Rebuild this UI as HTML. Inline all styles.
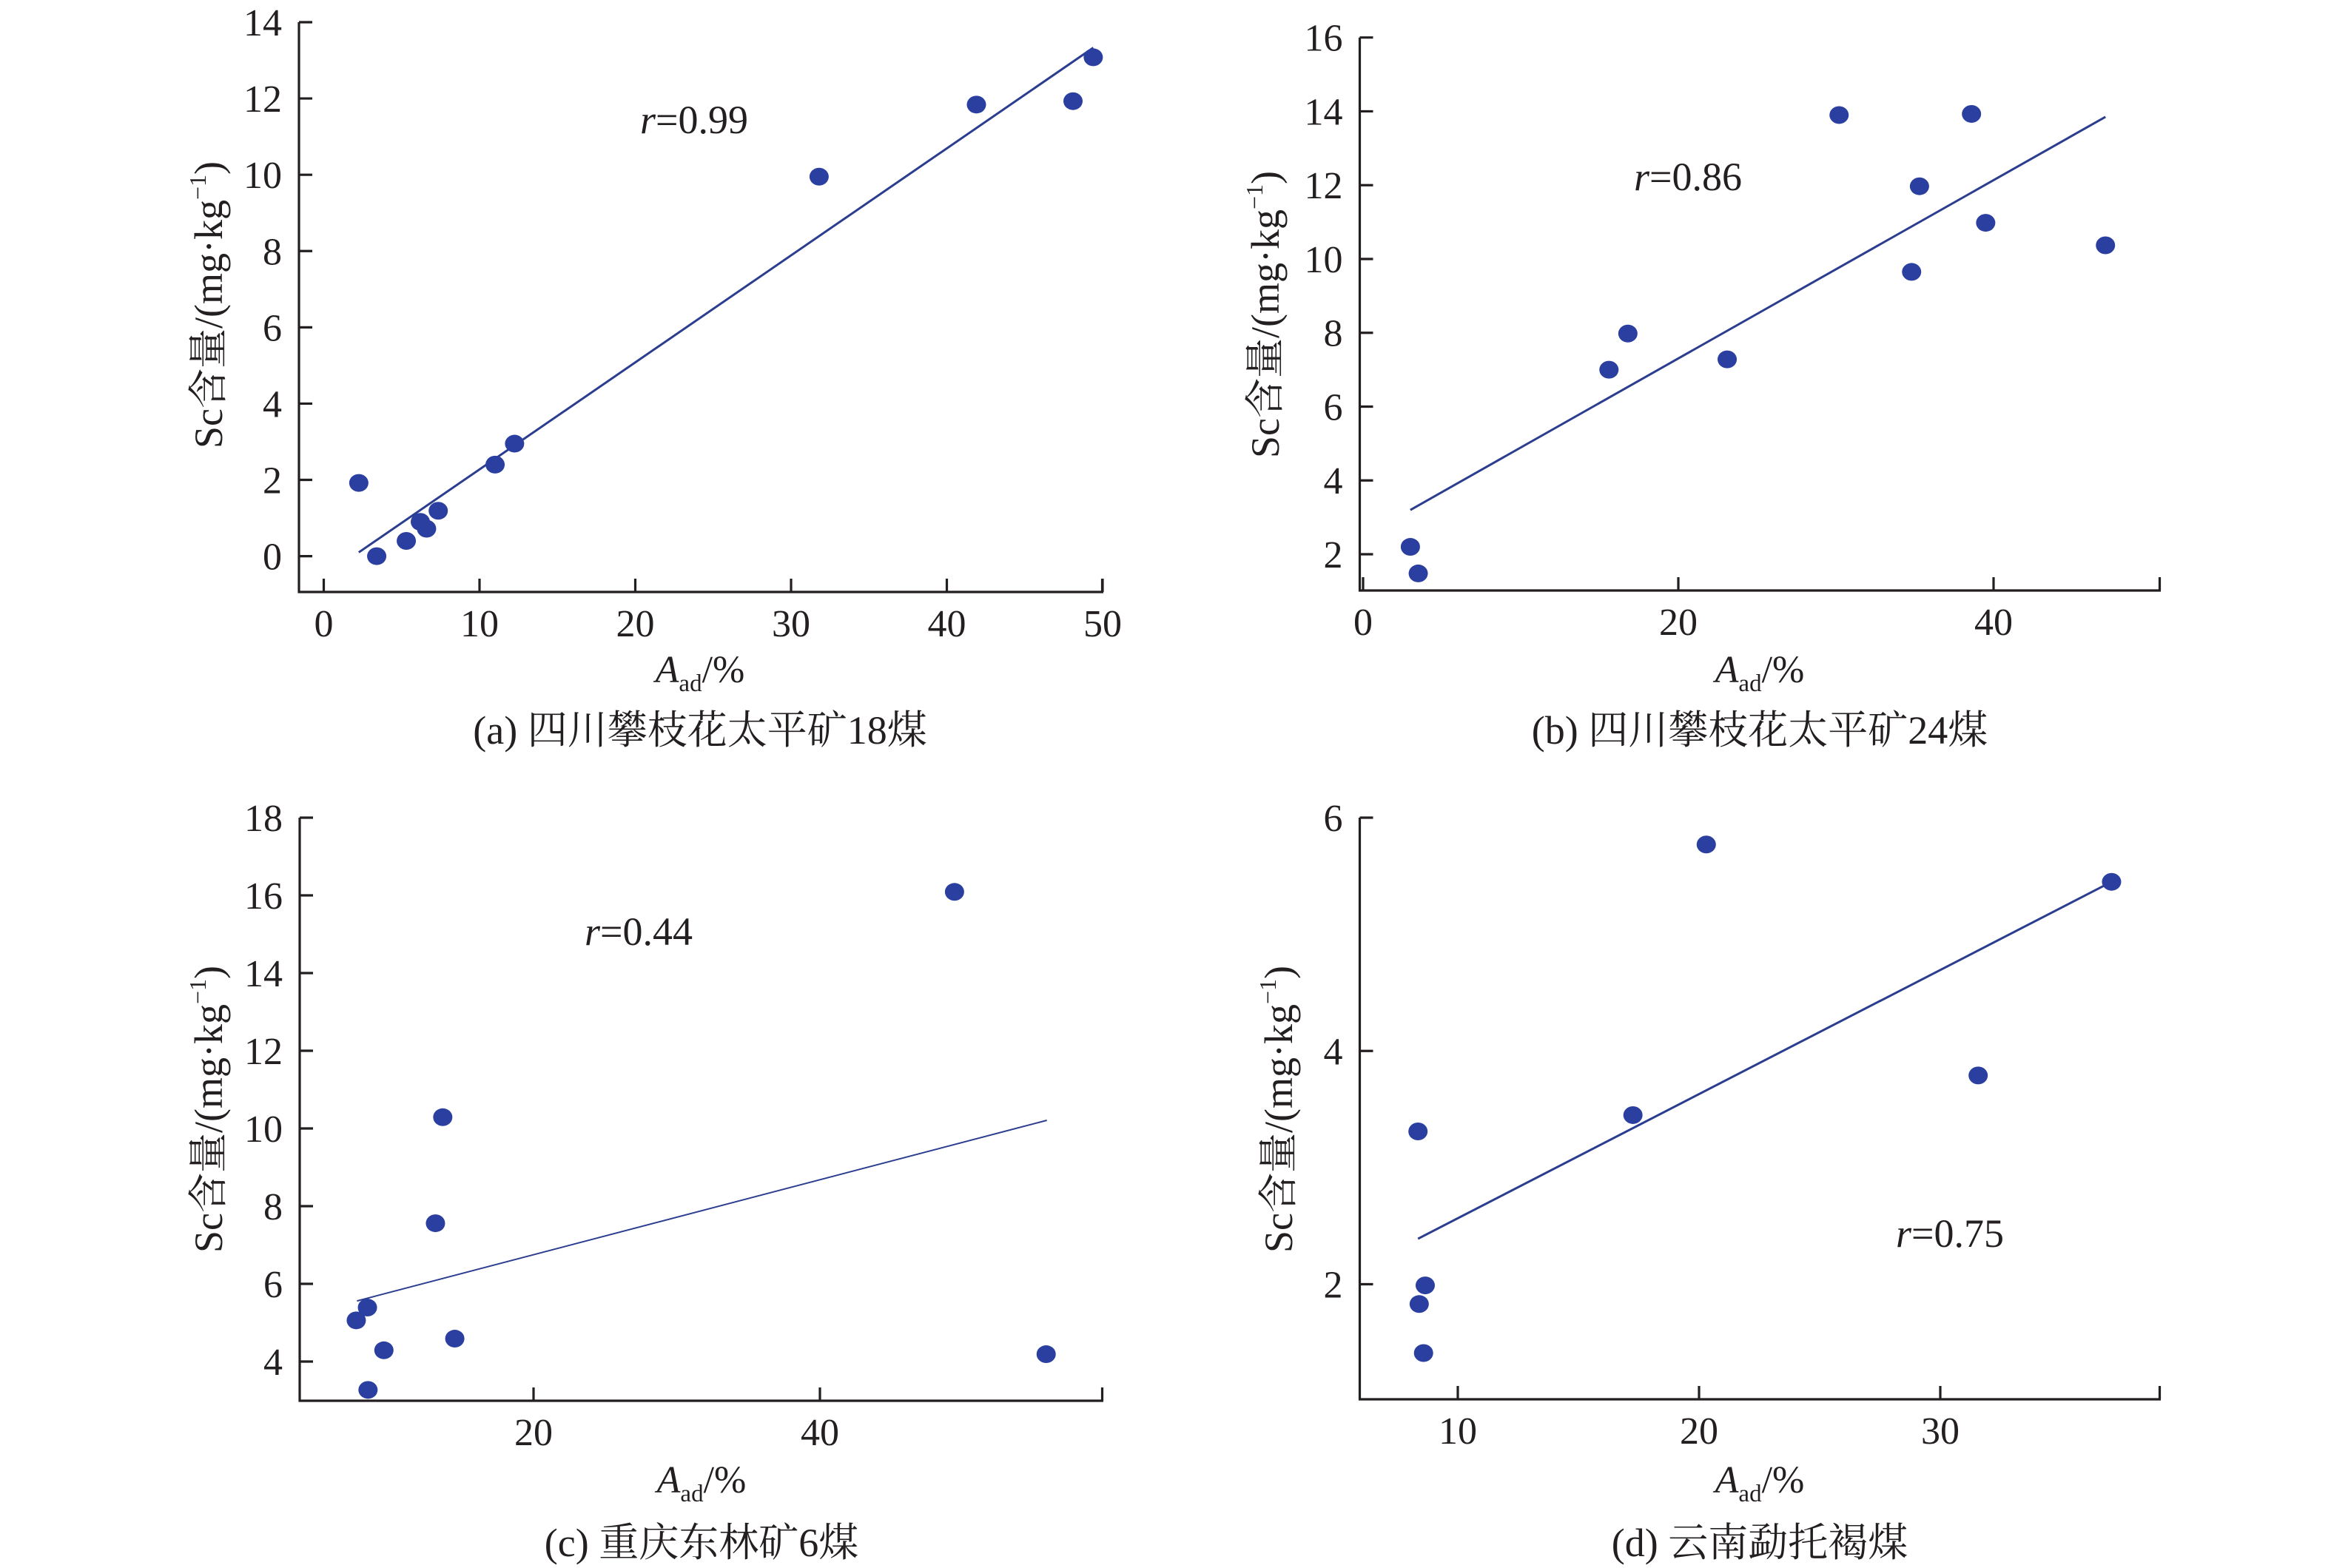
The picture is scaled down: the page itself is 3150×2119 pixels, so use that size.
<!DOCTYPE html>
<html><head><meta charset="utf-8"><style>
html,body{margin:0;padding:0;background:#fff}
svg{display:block}
text{font-family:"Liberation Serif","Noto Serif CJK SC","Noto Sans CJK SC",serif;fill:#231f20}
</style></head><body>
<svg id="fig" width="3150" height="2119" viewBox="0 0 3150 2119" xmlns="http://www.w3.org/2000/svg"></svg>
<script>
// Panel (a)
const aX = [2.25, 3.4, 5.3, 6.2, 6.6, 7.35, 11.0, 12.25, 31.8, 41.9, 48.1, 49.4];
const aY = [1.92, 0.0, 0.4, 0.9, 0.72, 1.19, 2.4, 2.95, 9.95, 11.84, 11.93, 13.08];
const aFitX = [2.25, 49.4];
const aFitY = [0.1, 13.33];
const aXTicks = [0, 10, 20, 30, 40, 50];
const aYTicks = [0, 2, 4, 6, 8, 10, 12, 14];
// Panel (b)
const bX = [3.0, 3.5, 15.6, 16.8, 23.1, 30.2, 34.8, 35.3, 38.6, 39.5, 47.1];
const bY = [2.2, 1.48, 7.0, 7.98, 7.28, 13.9, 9.65, 11.97, 13.93, 10.98, 10.37];
const bFitX = [3.0, 47.1];
const bFitY = [3.2, 13.85];
const bXTicks = [0, 20, 40];
const bYTicks = [2, 4, 6, 8, 10, 12, 14, 16];
// Panel (c)
const cX = [49.4, 13.66, 13.15, 8.4, 7.62, 9.55, 14.5, 8.44, 55.8];
const cY = [16.09, 10.29, 7.56, 5.39, 5.06, 4.29, 4.59, 3.27, 4.19];
const cFitX = [7.67, 55.85];
const cFitY = [5.56, 10.21];
const cXTicks = [20, 40];
const cYTicks = [4, 6, 8, 10, 12, 14, 16, 18];
// Panel (d)
const dX = [20.3, 37.1, 31.57, 17.26, 8.35, 8.65, 8.4, 8.58];
const dY = [5.77, 5.45, 3.79, 3.45, 3.31, 1.99, 1.83, 1.41];
const dFitX = [8.35, 37.1];
const dFitY = [2.39, 5.45];
const dXTicks = [10, 20, 30];
const dYTicks = [2, 4, 6];

const NS = "http://www.w3.org/2000/svg";
const svg = document.getElementById('fig');
function mk(tag, attrs, parent){const e=document.createElementNS(NS,tag);for(const k in attrs)e.setAttribute(k,attrs[k]);(parent||svg).appendChild(e);return e;}

function panel(p){
  const g = mk('g',{});
  
  
  const sx = v => p.x0 + (v - p.xv0) * (p.x1 - p.x0) / (p.xv1 - p.xv0);
  const sy = v => p.y0 + (v - p.yv0) * (p.y1 - p.y0) / (p.yv1 - p.yv0);
  const ya = mk('line',{x1:p.ax,y1:p.top,x2:p.ax,y2:p.base+1.5,stroke:'#231f20','stroke-width':3.2},g);
  
  
  const xa = mk('line',{x1:p.ax-1.5,y1:p.base,x2:p.right,y2:p.base,stroke:'#231f20','stroke-width':3.2},g);
  
  
  mk('line',{x1:p.right-1.5,y1:p.base,x2:p.right-1.5,y2:p.base-18,stroke:'#231f20','stroke-width':3.2},g);
  p.yt.forEach(v=>{
    const y=sy(v);
    mk('line',{x1:p.ax,y1:y,x2:p.ax+18,y2:y,stroke:'#231f20','stroke-width':3.2},g);
    const t=mk('text',{x:p.ax-23,y:y+18,'text-anchor':'end','font-size':52},g);
    
    
    t.textContent=v;
  });
  p.xt.forEach(v=>{
    const x=sx(v);
    mk('line',{x1:x,y1:p.base,x2:x,y2:p.base-18,stroke:'#231f20','stroke-width':3.2},g);
    const t=mk('text',{x:x,y:p.base+60,'text-anchor':'middle','font-size':52},g);
    
    
    t.textContent=v;
  });
  const fl = mk('line',{x1:sx(p.fx[0]),y1:sy(p.fy[0]),x2:sx(p.fx[1]),y2:sy(p.fy[1]),stroke:'#2b3d8f','stroke-width':p.lw},g);
  
  
  p.xs.forEach((v,i)=>{
    const c = mk('ellipse',{cx:sx(v),cy:sy(p.ys[i]),rx:13,ry:12,fill:'#2a3f9f'},g);
    
    
  });
  const r = mk('text',{x:p.rx,y:p.ry,'font-size':54},g);
  
  
  r.innerHTML = '<tspan font-style="italic">r</tspan>=' + p.rv;
  const yt = mk('text',{x:0,y:0,'text-anchor':'middle','font-size':54,transform:`translate(${p.ytx},${p.yty}) rotate(-90)`},g);
  
  
  yt.innerHTML = 'Sc含量/(mg·kg<tspan font-size="32" dy="-22">−1</tspan><tspan dy="22">)</tspan>';
  const xt = mk('text',{x:p.xtx,y:p.xty,'text-anchor':'middle','font-size':52},g);
  
  
  xt.innerHTML = '<tspan font-style="italic">A</tspan><tspan font-size="33" dy="12">ad</tspan><tspan dy="-12">/%</tspan>';
  const cp = mk('text',{x:p.xtx,y:p.capy,'text-anchor':'middle','font-size':54},g);
  
  
  cp.textContent = p.cap;
}

panel({id:'a', xs:aX, ys:aY, fx:aFitX, fy:aFitY, xt:aXTicks, yt:aYTicks,
  x0:437.5, x1:1490, xv0:0, xv1:50, y0:751.6, y1:30, yv0:0, yv1:14,
  ax:404, top:30, base:800, right:1491, lw:3,
  rx:865, ry:180, rv:'0.99', ytx:300, yty:412, xtx:946, xty:922, capy:1005,
  cap:'(a) 四川攀枝花太平矿18煤'});
panel({id:'b', xs:bX, ys:bY, fx:bFitX, fy:bFitY, xt:bXTicks, yt:bYTicks,
  x0:1842, x1:2694, xv0:0, xv1:40, y0:749, y1:50.7, yv0:2, yv1:16,
  ax:1837.5, top:50.7, base:798, right:2920, lw:3,
  rx:2208, ry:257, rv:'0.86', ytx:1728, yty:425, xtx:2378, xty:922, capy:1005,
  cap:'(b) 四川攀枝花太平矿24煤'});
panel({id:'c', xs:cX, ys:cY, fx:cFitX, fy:cFitY, xt:cXTicks, yt:cYTicks,
  x0:721, x1:1108, xv0:20, xv1:40, y0:1840, y1:1105, yv0:4, yv1:18,
  ax:405, top:1105, base:1893, right:1491, lw:2,
  rx:790, ry:1277, rv:'0.44', ytx:300, yty:1499, xtx:948, xty:2017, capy:2103,
  cap:'(c) 重庆东林矿6煤'});
panel({id:'d', xs:dX, ys:dY, fx:dFitX, fy:dFitY, xt:dXTicks, yt:dYTicks,
  x0:1970, x1:2622, xv0:10, xv1:30, y0:1735.5, y1:1105, yv0:2, yv1:6,
  ax:1837.5, top:1105, base:1891, right:2920, lw:3,
  rx:2562, ry:1685, rv:'0.75', ytx:1746, yty:1499, xtx:2378, xty:2017, capy:2103,
  cap:'(d) 云南勐托褐煤'});
</script>
</body></html>
